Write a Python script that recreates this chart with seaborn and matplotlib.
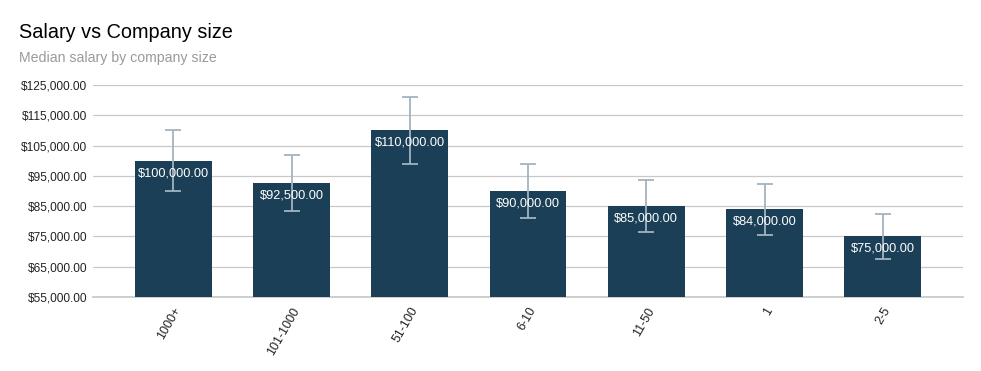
import matplotlib
matplotlib.use("Agg")
import matplotlib.pyplot as plt
import numpy as np
import pandas as pd
import seaborn as sns
from matplotlib.ticker import FuncFormatter

# data
sizes = ["1000+", "101-1000", "51-100", "6-10", "11-50", "1", "2-5"]
median_salary = [100000, 92500, 110000, 90000, 85000, 84000, 75000]
err_low = [90000, 83250, 99000, 81000, 76500, 75600, 67500]
err_high = [110000, 101750, 121000, 99000, 93500, 92400, 82500]
y_ticks = [55000, 65000, 75000, 85000, 95000, 105000, 115000, 125000]

BAR = "#1b3f56"
ERR = "#a3b3bf"
GRID = "#c8c8c8"

sns.set_theme(style="white")
plt.rcParams["font.family"] = ["Liberation Sans", "DejaVu Sans"]

df = pd.DataFrame({"size": sizes, "salary": median_salary})

fig = plt.figure(figsize=(9.81, 3.71), dpi=100)
ax = fig.add_axes([0.0948, 0.1995, 0.887, 0.5715])

sns.barplot(data=df, x="size", y="salary", color=BAR, width=0.65,
            saturation=1, linewidth=0, ax=ax, zorder=2)

x = np.arange(len(sizes))
vals = np.array(median_salary)
yerr = [vals - np.array(err_low), np.array(err_high) - vals]
ax.errorbar(x, vals, yerr=yerr, fmt="none", ecolor=ERR, elinewidth=1.3,
            capsize=6, capthick=1.3, zorder=3)

for xi, v in zip(x, median_salary):
    ax.annotate(f"${v:,.2f}", (xi, v), xytext=(0, -9), textcoords="offset points",
                ha="center", va="center", color="white", fontsize=9.2, zorder=4)

ax.set_ylim(y_ticks[0], y_ticks[-1])
ax.set_yticks(y_ticks)
ax.yaxis.set_major_formatter(FuncFormatter(lambda v, _: f"${v:,.2f}"))
ax.set_xlim(-0.68, len(sizes) - 0.32)
ax.grid(axis="y", color=GRID, linewidth=0.9, zorder=0)
ax.set_axisbelow(True)
for s in ["top", "right", "left"]:
    ax.spines[s].set_visible(False)
ax.spines["bottom"].set_color(GRID)
ax.spines["bottom"].set_zorder(1)
ax.set_xlabel("")
ax.set_ylabel("")
ax.tick_params(axis="y", labelsize=8.6, colors="#222222", length=0, pad=4)
ax.tick_params(axis="x", labelsize=9, colors="#222222", length=0, pad=6)
for lbl in ax.get_xticklabels():
    lbl.set_rotation(60)
    lbl.set_ha("right")
    lbl.set_rotation_mode("anchor")

fig.text(0.0194, 0.913, "Salary vs Company size", fontsize=14.3, color="#000000",
         va="center", ha="left")
fig.text(0.0194, 0.843, "Median salary by company size", fontsize=10.2,
         color="#9a9a9a", va="center", ha="left")

fig.savefig("out.png", dpi=100)
